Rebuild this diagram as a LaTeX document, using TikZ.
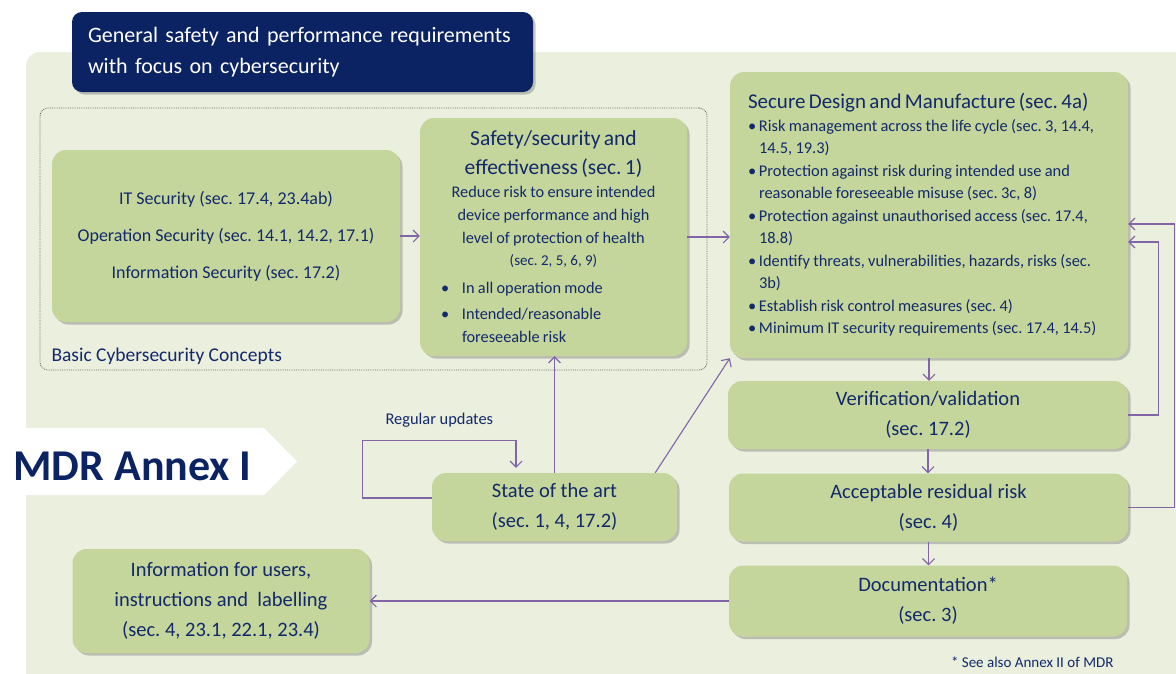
\documentclass[tikz,border=0pt]{standalone}
\usepackage{fontspec}
\setmainfont{Carlito}
\usetikzlibrary{arrows.meta,shadows}

\definecolor{bgGreen}{HTML}{EBEFDE}
\definecolor{boxGreen}{HTML}{C5D69C}
\definecolor{navy}{HTML}{0B2263}
\definecolor{txtNavy}{HTML}{13296A}
\definecolor{linkPurple}{HTML}{8264A8}

\newcommand{\setfs}[2]{\fontsize{#1}{#2}\selectfont}
\newcommand{\bitem}[2]{\par\noindent\hangindent=#1\hangafter=1\makebox[#1][l]{\textbullet}#2\par}
\frenchspacing

\begin{document}
\begin{tikzpicture}[x=1pt,y=-1pt,
    box/.style={fill=boxGreen,rounded corners=14pt,text=txtNavy,inner sep=0pt,
      drop shadow={shadow xshift=2.5pt,shadow yshift=-2.5pt,opacity=0.3,fill=black!70}},
    smallbox/.style={box,align=center,font=\setfs{20.5}{30}},
    link/.style={draw=linkPurple,line width=1.1pt,-{Straight Barb[length=6pt,width=12pt]}}]
  \useasboundingbox (0,0) rectangle (1176,673);
  \begin{scope}
    \clip (0,0) rectangle (1176,673);
    \fill[bgGreen,rounded corners=14pt] (26,52) rectangle (1200,700);
  \end{scope}

  \node[draw=black!60,densely dotted,line width=0.8pt,rounded corners=8pt,
    minimum width=667pt,minimum height=262pt] (basic) at (373.5,239) {};
  \node[anchor=base west,text=txtNavy,font=\setfs{19.5}{24}] (basiclbl) at (48,361) {Basic Cybersecurity Concepts};

  \node[fill=navy,rounded corners=10pt,text=white,inner xsep=16pt,inner ysep=0pt,
    minimum width=461pt,minimum height=80pt,text width=429pt,align=left,font=\setfs{22}{31},
    drop shadow={shadow xshift=2.5pt,shadow yshift=-2.5pt,opacity=0.3,fill=black!70}] (title) at (302.5,52)
    {General safety and performance requirements\\with focus on cybersecurity};

  \fill[white] (0,428) -- (264,428) -- (297,461.5) -- (264,495) -- (0,495) -- cycle;
  \node[anchor=base west,text=navy,font=\bfseries\setfs{44}{50}] (annex) at (10,480) {MDR Annex I};

  \node[box,align=center,minimum width=348pt,minimum height=172pt,font=\setfs{18}{37}] (concepts) at (226,236)
    {IT Security (sec. 17.4, 23.4ab)\\Operation Security (sec. 14.1, 14.2, 17.1)\\Information Security (sec. 17.2)};

  \node[box,minimum width=267pt,minimum height=238pt,text width=225pt] (safety) at (553.5,237)
    {{\centering\setfs{21.5}{29}Safety/security and\\effectiveness (sec. 1)\par
      \setfs{16.3}{23}Reduce risk to ensure intended\\device performance and high\\level of protection of health\par
      \setfs{15}{22}(sec. 2, 5, 6, 9)\par}
     \vspace{5pt}
     \raggedright\setfs{16.3}{23}
     \bitem{21pt}{In all operation mode}
     \vspace{3pt}
     \bitem{21pt}{Intended/reasonable\newline foreseeable risk}};

  \node[box,minimum width=398pt,minimum height=286pt,text width=362pt] (secure) at (929,215)
    {\raggedright{\setfs{21}{26}Secure Design and Manufacture (sec. 4a)\par}
     \setfs{16.4}{22.5}
     \bitem{11pt}{Risk management across the life cycle (sec. 3, 14.4,\newline 14.5, 19.3)}
     \bitem{11pt}{Protection against risk during intended use and\newline reasonable foreseeable misuse (sec. 3c, 8)}
     \bitem{11pt}{Protection against unauthorised access (sec. 17.4,\newline 18.8)}
     \bitem{11pt}{Identify threats, vulnerabilities, hazards, risks (sec.\newline 3b)}
     \bitem{11pt}{Establish risk control measures (sec. 4)}
     \bitem{11pt}{Minimum IT security requirements (sec. 17.4, 14.5)}};

  \node[smallbox,minimum width=400pt,minimum height=68pt] (verif) at (928,415) {Verification/validation\\(sec. 17.2)};
  \node[smallbox,minimum width=399pt,minimum height=68pt] (accept) at (928.5,507.5) {Acceptable residual risk\\(sec. 4)};
  \node[smallbox,minimum width=398pt,minimum height=71pt] (doc) at (928,601) {Documentation*\\(sec. 3)};
  \node[smallbox,minimum width=245pt,minimum height=68pt] (state) at (554.5,507) {State of the art\\(sec. 1, 4, 17.2)};
  \node[smallbox,minimum width=297pt,minimum height=104pt] (info) at (221,601)
    {Information for users,\\instructions and~ labelling\\(sec. 4, 23.1, 22.1, 23.4)};

  \node[anchor=base west,text=txtNavy,font=\setfs{16.4}{20}] (updlbl) at (382,424) {Regular updates};
  \node[anchor=base east,text=txtNavy,font=\setfs{15}{18}] (note) at (1117,667) {* See also Annex II of MDR};

  \draw[link] (concepts.east) -- (concepts.east -| safety.west);
  \draw[link] (safety.east) -- (safety.east -| secure.west);
  \draw[link] (secure.south) -- (secure.south |- verif.north);
  \draw[link] (verif.south) -- (verif.south |- accept.north);
  \draw[link] (accept.south) -- (accept.south |- doc.north);
  \draw[link] (verif.east) -- ++(30,0) |- ([yshift=-27pt]secure.east);
  \draw[link] (accept.east) -- ++(46,0) |- ([yshift=-9pt]secure.east);
  \draw[link] (doc.west) -- (doc.west -| info.east);
  \draw[link] (state.north) -- (state.north |- safety.south);
  \draw[link] ([xshift=-22pt]state.north east) -- (secure.south west);
  \draw[link] ([yshift=9pt]state.west) -- ++(-69,0) |- ([xshift=-38.5pt,yshift=32pt]state.north)
    -- ([xshift=-38.5pt,yshift=5pt]state.north);
\end{tikzpicture}
\end{document}
